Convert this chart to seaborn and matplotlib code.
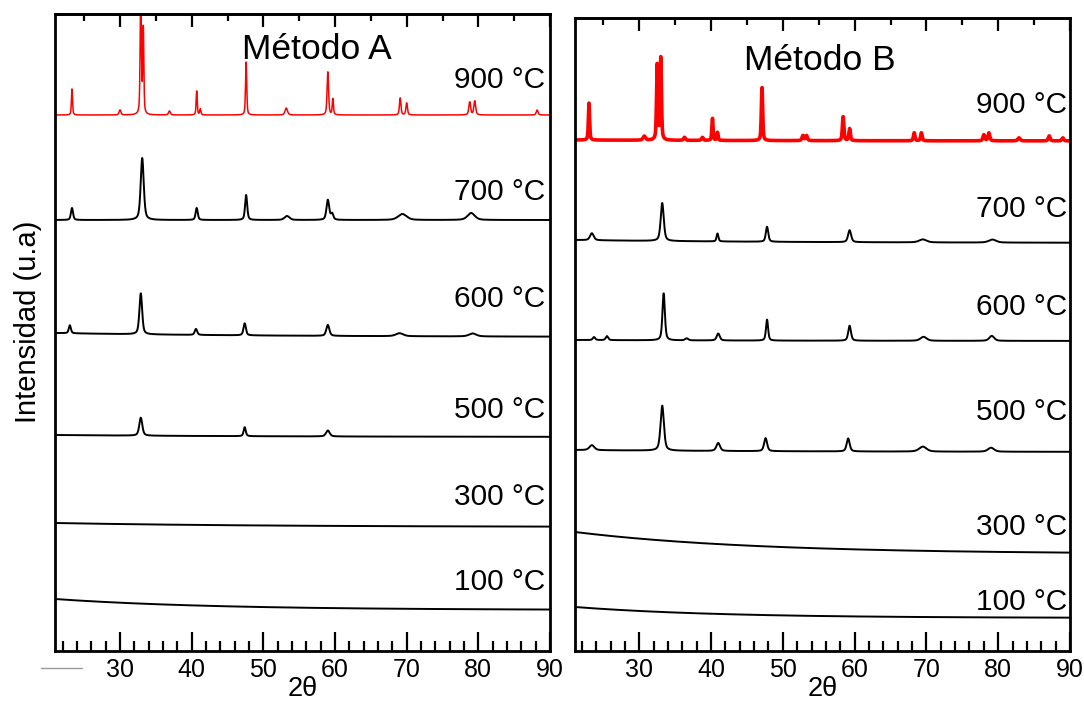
import numpy as np
import pandas as pd
import matplotlib
matplotlib.use("Agg")
import matplotlib.pyplot as plt
from matplotlib.lines import Line2D
from matplotlib.ticker import MultipleLocator
import seaborn as sns

# ---------------- data ----------------
temps = ["100 °C", "300 °C", "500 °C", "600 °C", "700 °C", "900 °C"]
xticks = [30, 40, 50, 60, 70, 80, 90]

# baselines (intensity offsets, arbitrary units): start (2θ≈21) and end (2θ=90)
base_start_A = [52, 128, 216, 318, 431, 536]
base_end_A = [41, 124, 214, 314, 431, 536]
base_start_B = [44, 119, 201, 311, 411, 511]
base_end_B = [33, 97, 199, 310, 408, 510]
base_tau_A = [22, 30, 30, 30, 30, 30]
base_tau_B = [20, 25, 30, 30, 30, 30]

# peaks: (2θ position, height, FWHM)
peaks_A100 = []
peaks_A300 = []
peaks_A500 = [(32.9, 18, 0.5), (47.4, 9, 0.35), (59.0, 6, 0.6)]
peaks_A600 = [(23.0, 8, 0.35), (32.9, 41, 0.45), (40.6, 6, 0.4), (47.4, 12, 0.4),
              (59.0, 11, 0.5), (69.0, 3, 1.2), (79.2, 3, 1.2)]
peaks_A700 = [(23.3, 12, 0.35), (33.1, 62, 0.5), (40.7, 12, 0.35), (47.6, 25, 0.35),
              (53.3, 4, 0.8), (59.0, 20, 0.45), (59.6, 6, 0.4), (69.4, 6, 1.4), (79.0, 7, 1.2)]
peaks_A900 = [(23.3, 26, 0.18), (30.0, 5, 0.3), (32.9, 125, 0.2), (33.25, 85, 0.18),
              (36.9, 4, 0.3), (40.7, 24, 0.18), (41.2, 6, 0.2), (47.6, 53, 0.2),
              (53.2, 7, 0.4), (59.0, 43, 0.25), (59.7, 16, 0.2), (69.1, 17, 0.25),
              (70.0, 12, 0.25), (78.8, 13, 0.3), (79.5, 14, 0.3), (88.2, 5, 0.3)]

peaks_B100 = []
peaks_B300 = []
peaks_B500 = [(23.4, 5, 0.8), (33.2, 45, 0.55), (41.0, 8, 0.6), (47.6, 13, 0.5),
              (59.1, 13, 0.5), (69.5, 5, 1.2), (79.0, 4, 1.0)]
peaks_B600 = [(23.7, 3, 0.4), (25.5, 4, 0.4), (33.4, 47, 0.4), (36.6, 2, 0.5),
              (41.0, 7, 0.5), (47.8, 21, 0.35), (59.3, 15, 0.45), (69.6, 4, 1.0),
              (79.1, 5, 0.8)]
peaks_B700 = [(23.4, 7, 0.6), (33.2, 38, 0.5), (40.9, 8, 0.3), (47.8, 15, 0.4),
              (59.3, 12, 0.5), (69.5, 3, 1.2), (79.2, 3, 1.2)]
peaks_B900 = [(23.0, 37, 0.2), (30.7, 4, 0.4), (32.5, 75, 0.22), (33.0, 82, 0.22),
              (36.3, 3, 0.3), (38.8, 3, 0.3), (40.2, 22, 0.2), (40.9, 8, 0.2),
              (47.1, 53, 0.22), (52.8, 5, 0.3), (53.3, 5, 0.3), (58.4, 24, 0.25),
              (59.3, 12, 0.25), (68.3, 8, 0.25), (69.3, 8, 0.25), (78.0, 6, 0.3),
              (78.7, 8, 0.3), (82.9, 3, 0.4), (87.1, 5, 0.3), (89.0, 3, 0.3)]

peaks_A = [peaks_A100, peaks_A300, peaks_A500, peaks_A600, peaks_A700, peaks_A900]
peaks_B = [peaks_B100, peaks_B300, peaks_B500, peaks_B600, peaks_B700, peaks_B900]

# label baselines (same units as intensities)
label_y_A = [61, 146, 233, 344, 451, 563]
label_y_B = [41, 116, 231, 336, 434, 538]


# ---------------- build the patterns ----------------
def pattern(x, start, end, tau, peaks):
    y = end + (start - end) * np.exp(-(x - x[0]) / tau)
    for c, h, w in peaks:
        u = (x - c) / (w / 2.0)
        y = y + h * (0.5 / (1 + u ** 2) + 0.5 * np.exp(-np.log(2) * u ** 2))
    return y


def build(x, starts, ends, taus, peaks):
    frames = []
    for t, s, e, tau, p in zip(temps, starts, ends, taus, peaks):
        frames.append(pd.DataFrame({"2θ": x, "I": pattern(x, s, e, tau, p), "T": t}))
    return pd.concat(frames, ignore_index=True)


xA = np.arange(20.93, 90.0001, 0.01)
xB = np.arange(21.05, 90.0001, 0.01)
dfA = build(xA, base_start_A, base_end_A, base_tau_A, peaks_A)
dfB = build(xB, base_start_B, base_end_B, base_tau_B, peaks_B)

# ---------------- drawing ----------------
sns.set_style("white")
plt.rcParams["font.family"] = ["Liberation Sans", "DejaVu Sans"]
plt.rcParams.update({"text.color": "black", "axes.labelcolor": "black",
                     "xtick.color": "black", "ytick.color": "black",
                     "xtick.bottom": True, "xtick.top": False,
                     "xtick.major.size": 14, "xtick.minor.size": 7})

fig = plt.figure(figsize=(10.84, 7.03), dpi=100)
axA = fig.add_axes([55 / 1084, 52 / 703, 495 / 1084, 637 / 703])
axB = fig.add_axes([575 / 1084, 52 / 703, 495 / 1084, 633 / 703])


def draw(ax, df, xlim, ylim, lw_red, label_y, label_x, title, title_xy):
    for t in temps:
        sub = df[df["T"] == t]
        red = t == "900 °C"
        sns.lineplot(data=sub, x="2θ", y="I", ax=ax, color="#ff0000" if red else "black",
                     lw=lw_red if red else 1.4, estimator=None, sort=False, legend=False)
    ax.set_xlim(*xlim)
    ax.set_ylim(*ylim)
    ax.set_yticks([])
    ax.set_ylabel("")
    ax.set_xlabel("2θ", fontsize=19.5, labelpad=-4)
    ax.set_xticks(xticks)
    ax.xaxis.set_minor_locator(MultipleLocator(2))
    ax.tick_params(axis="x", which="major", direction="in", length=14, width=1.6,
                   labelsize=18, pad=5, bottom=True, top=False, colors="black")
    ax.tick_params(axis="x", which="minor", direction="in", length=7, width=1.6,
                   bottom=True, top=False, colors="black")
    for s in ax.spines.values():
        s.set_visible(True)
        s.set_linewidth(2)
        s.set_color("black")
    sec = ax.secondary_xaxis("top")
    sec.set_xticks(xticks)
    sec.xaxis.set_minor_locator(MultipleLocator(5))
    sec.tick_params(axis="x", which="major", direction="in", length=9, width=1.6,
                    labeltop=False, colors="black")
    sec.tick_params(axis="x", which="minor", direction="in", length=5, width=1.6,
                    colors="black")
    sec.spines["top"].set_linewidth(2)
    for t, yy in zip(temps, label_y):
        ax.text(label_x, yy, t, ha="right", va="baseline", fontsize=21.5, color="black")
    ax.text(title_xy[0], title_xy[1], title, transform=ax.transAxes, ha="center",
            va="baseline", fontsize=25.5, color="black")


draw(axA, dfA, (20.93, 90), (0, 637), 1.1, label_y_A, 89.3, "Método A", (0.529, 0.929))
draw(axB, dfB, (21.05, 90), (0, 633), 2.6, label_y_B, 89.6, "Método B", (0.495, 0.918))

fig.text(28 / 1084, 1 - 322 / 703, "Intensidad (u.a)", rotation=90, ha="center",
         va="center", fontsize=21, color="black")
fig.add_artist(Line2D([41 / 1084, 82 / 1084], [1 - 668 / 703] * 2, color="#9a9a9a", lw=1))

fig.savefig("out.png", dpi=100)
